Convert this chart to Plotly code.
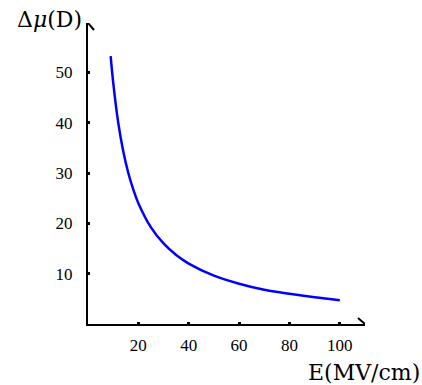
import plotly.graph_objects as go

# Values
E_vals = [9, 10, 12, 14, 16, 18, 20, 25, 30, 35, 40, 50, 60, 70, 80, 90, 100]
dmu_vals = [53.2, 48.0, 40.0, 34.3, 30.0, 26.7, 24.0, 19.2, 16.0, 13.7, 12.0, 9.6, 8.0, 6.8, 6.0, 5.3, 4.7]
x_ticks = [20, 40, 60, 80, 100]
y_ticks = [10, 20, 30, 40, 50]
x_title = "E(MV/cm)"
y_title = "Δ<i>μ</i>(D)"

XMAX = 110
YMAX = 59.8
serif = "Liberation Serif, DejaVu Serif, serif"
title_font = "DejaVu Serif, Liberation Serif, serif"

fig = go.Figure()
fig.add_trace(go.Scatter(x=E_vals, y=dmu_vals, mode="lines",
                         line=dict(color="#0000FF", width=2.5, shape="spline"),
                         hoverinfo="skip", showlegend=False))

fig.update_layout(
    width=422, height=385,
    margin=dict(l=88, r=422 - 365, t=23, b=61),
    paper_bgcolor="white", plot_bgcolor="white",
    font=dict(family=serif, size=17, color="black"),
    xaxis=dict(range=[0, XMAX], tickvals=x_ticks, showgrid=False, zeroline=False,
               showline=True, linecolor="black", linewidth=2,
               ticks="inside", ticklen=2, tickwidth=3, tickcolor="black",
               ticklabelstandoff=5, tickfont=dict(family=serif, size=17)),
    yaxis=dict(range=[0, YMAX], tickvals=y_ticks, showgrid=False, zeroline=False,
               showline=True, linecolor="black", linewidth=2,
               ticks="inside", ticklen=2, tickwidth=3, tickcolor="black",
               ticklabelstandoff=10, tickfont=dict(family=serif, size=17)),
    shapes=[
        dict(type="path", xref="x", yref="y", xsizemode="pixel", ysizemode="pixel",
             xanchor=XMAX, yanchor=0, path="M -7,-6 L 0,0 L -7,6",
             line=dict(color="black", width=2)),
        dict(type="path", xref="x", yref="y", xsizemode="pixel", ysizemode="pixel",
             xanchor=0, yanchor=YMAX, path="M -6,-7 L 0,0 L 6,-7",
             line=dict(color="black", width=2)),
    ],
    annotations=[
        dict(text=y_title, xref="paper", yref="paper", x=-0.015, y=1.01,
             xanchor="right", yanchor="middle", showarrow=False,
             font=dict(family=title_font, size=22)),
        dict(text=x_title, xref="paper", yref="paper", x=1.205, y=-0.16,
             xanchor="right", yanchor="middle", showarrow=False,
             font=dict(family=title_font, size=22)),
    ],
)

fig.write_html("out.html", config={"displayModeBar": False},
               post_script="document.body.style.margin='0';")
